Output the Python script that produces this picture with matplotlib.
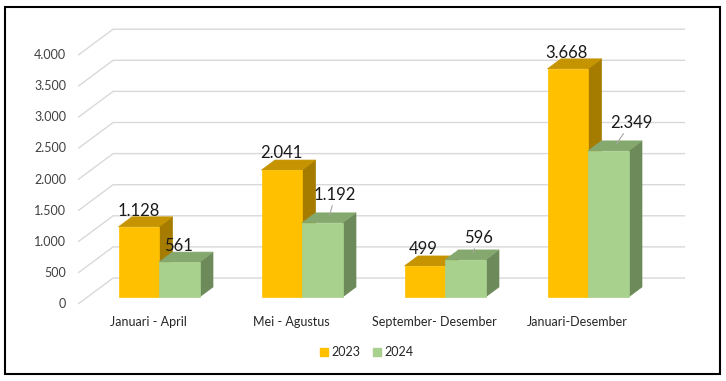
import matplotlib
matplotlib.use('Agg')
import matplotlib.pyplot as plt
from matplotlib.patches import Polygon, Rectangle
from matplotlib.lines import Line2D

plt.rcParams['font.family'] = ['Lato', 'DejaVu Sans']

# data
categories = ['Januari - April', 'Mei - Agustus', 'September- Desember', 'Januari-Desember']
series_names = ['2023', '2024']
values_2023 = [1128, 2041, 499, 3668]
values_2024 = [561, 1192, 596, 2349]
yticks = [0, 500, 1000, 1500, 2000, 2500, 3000, 3500, 4000]

# colours (front, top, side)
colors_2023 = ('#FFC000', '#C59400', '#A57C00')
colors_2024 = ('#A9D18E', '#85A86F', '#6D8A5A')

# layout in pixels
W, H = 726, 381
CAT_PX = 143.0          # distance between categories
X0_PX = 149.6           # first category centre on the front plane
Y0_PX = 304.0           # value 0 on the front plane
PX_PER_UNIT = 31.1 / 500
DEPTH_X, DEPTH_Y = 35.0, 26.0
BAR_PX = 40.5
D_FRONT, D_BACK = 7 / 26, 17 / 26

fig = plt.figure(figsize=(W / 100, H / 100), dpi=100)
ax = fig.add_axes([0, 0, 1, 1])
ax.axis('off')
ax.set_xlim((0 - X0_PX) / CAT_PX, (W - X0_PX) / CAT_PX)
ax.set_ylim((Y0_PX - H) / PX_PER_UNIT, Y0_PX / PX_PER_UNIT)

DX = DEPTH_X / CAT_PX
DY = DEPTH_Y / PX_PER_UNIT
BW = BAR_PX / CAT_PX


def proj(x, y, d):
    return (x + d * DX, y + d * DY)


# gridlines (wall) + tick labels
x_left = -0.5
x_right = len(categories) - 0.5
for v in yticks:
    ax.plot([x_left, x_left + DX, x_right + DX], [v, v + DY, v + DY],
            color='#d9d9d9', lw=1, zorder=1, solid_capstyle='butt')
    ax.annotate(f'{v:,}'.replace(',', '.'), (x_left, v), xytext=(-12, 0),
                textcoords='offset pixels', ha='right', va='center',
                fontsize=9, color='#404040')

# label offsets relative to centre of the top face (pixels) and leader flag
label_offsets = [[(-7, 6), (-7, 6)], [(-7, 7), (6, 18)], [(-8, 7), (7, 12)], [(-8, 6), (16, 18)]]
leaders = [[False, False], [False, True], [False, True], [False, True]]

z = 2
for i, cat in enumerate(categories):
    for j, (vals, cols) in enumerate([(values_2023, colors_2023), (values_2024, colors_2024)]):
        v = vals[i]
        x0 = i + (j - 1) * BW
        x1 = x0 + BW
        front = [proj(x0, 0, D_FRONT), proj(x1, 0, D_FRONT), proj(x1, v, D_FRONT), proj(x0, v, D_FRONT)]
        top = [proj(x0, v, D_FRONT), proj(x1, v, D_FRONT), proj(x1, v, D_BACK), proj(x0, v, D_BACK)]
        side = [proj(x1, 0, D_FRONT), proj(x1, 0, D_BACK), proj(x1, v, D_BACK), proj(x1, v, D_FRONT)]
        for poly, c in [(side, cols[2]), (top, cols[1]), (front, cols[0])]:
            ax.add_patch(Polygon(poly, closed=True, facecolor=c, edgecolor=c, lw=0.5, zorder=z))
        z += 1
        xy = proj((x0 + x1) / 2, v, (D_FRONT + D_BACK) / 2)
        kw = {}
        if leaders[i][j]:
            kw['arrowprops'] = dict(arrowstyle='-', color='#a6a6a6', lw=0.8, shrinkA=0, shrinkB=2)
        ax.annotate(f'{v:,}'.replace(',', '.'), xy, xytext=label_offsets[i][j],
                    textcoords='offset pixels', ha='center', va='baseline',
                    fontsize=12, color='#1a1a1a', zorder=20, **kw)
    ax.annotate(cat, (i, 0), xytext=(-1, -18), textcoords='offset pixels',
                ha='center', va='center', fontsize=9, color='#262626')

handles = [Line2D([], [], marker='s', ls='none', color=colors_2023[0], markersize=6),
           Line2D([], [], marker='s', ls='none', color=colors_2024[0], markersize=6)]
fig.legend(handles, series_names, loc='center', bbox_to_anchor=(366 / W, 1 - 352 / H),
           ncol=2, frameon=False, fontsize=9, handlelength=0.8, handletextpad=0.2,
           columnspacing=0.9, labelcolor='#262626')

fig.patches.append(Rectangle((4.5 / W, 1 - 373.5 / H), (720 - 4.5) / W, (373.5 - 7) / H,
                             transform=fig.transFigure, fill=False, ec='black', lw=1.5))

fig.savefig('out.png', dpi=100)
